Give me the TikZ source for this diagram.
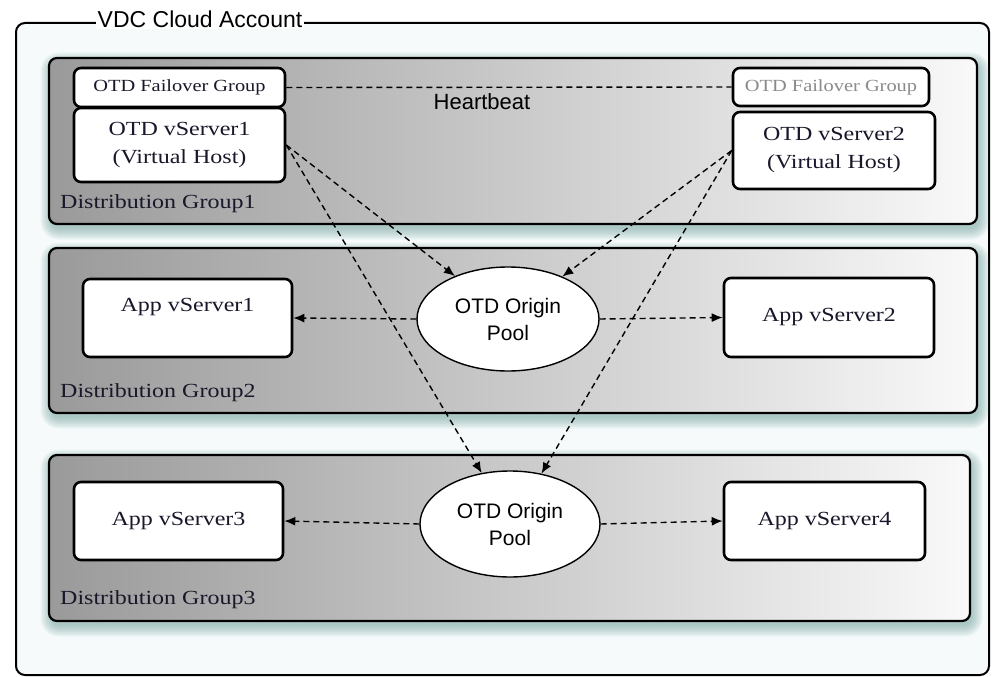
\documentclass[tikz,border=0pt]{standalone}
\usepackage{fontspec}
\newfontfamily\goudy{Liberation Serif}[FakeStretch=1.2]
\newfontfamily\hv{Liberation Sans}
\usetikzlibrary{arrows.meta,shapes.geometric,fit,calc}
\definecolor{txt}{HTML}{18182A}
\definecolor{greytxt}{HTML}{8A8A8A}
\definecolor{gL}{HTML}{9A9A9A}
\definecolor{gM}{HTML}{CDCDCD}
\definecolor{gR}{HTML}{F9F9F9}
\definecolor{glowc}{HTML}{5E9590}
\definecolor{outerc}{HTML}{F6FAFA}
\newcommand\glowbox[2]{%
  \foreach \k in {0,...,7}{%
    \pgfmathsetmacro\rr{8+1.5*\k}%
    \fill[glowc, opacity=0.075, rounded corners=\rr pt]
      ($(#1)+(-1.5*\k+2,-1.5*\k+5)$) rectangle ($(#2)+(1.5*\k+2,1.5*\k+5)$);
  }}
\tikzset{
  grp/.style={draw, line width=2.2pt, rounded corners=8pt, left color=gL, middle color=gM, right color=gR, inner sep=0pt},
  box/.style={draw, line width=2.6pt, rounded corners=7pt, fill=white, inner sep=0pt, align=center,
    text=txt, font=\goudy\fontsize{20}{28}\selectfont},
  fobox/.style={box, font=\goudy\fontsize{17}{20}\selectfont},
  btext/.style={inner sep=0pt, text=txt, font=\goudy\fontsize{20}{28}\selectfont},
  glabel/.style={inner sep=0pt, anchor=west, text=txt, font=\goudy\fontsize{20}{24}\selectfont},
  pool/.style={ellipse, draw, line width=1.4pt, fill=white, inner sep=0pt, align=center,
    font=\hv\fontsize{21}{27}\selectfont},
  dline/.style={draw, line width=1.4pt, dash pattern=on 6pt off 4pt},
  darrow/.style={dline, -{Latex[length=11pt,width=9pt]}}
}
\begin{document}
\begin{tikzpicture}[x=1pt,y=-1pt]
\useasboundingbox[fill=white] (0,0) rectangle (997,677);
% outer account box
\coordinate (oa) at (16,23);
\coordinate (ob) at (989,675);
\node[draw, line width=2pt, rounded corners=9pt, fill=outerc, inner sep=0pt, fit=(oa)(ob)] (outer) {};
\node[fill=white, inner sep=1.5pt, font=\hv\fontsize{23}{26}\selectfont] (title) at (200,19) {VDC Cloud Account};

% group boxes
\coordinate (g1a) at (49,58);  \coordinate (g1b) at (977,224);
\coordinate (g2a) at (49,248); \coordinate (g2b) at (977,413);
\coordinate (g3a) at (49,455); \coordinate (g3b) at (970,621);
\glowbox{g1a}{g1b}
\glowbox{g2a}{g2b}
\glowbox{g3a}{g3b}
\node[grp, fit=(g1a)(g1b)] (g1) {};
\node[grp, fit=(g2a)(g2b)] (g2) {};
\node[grp, fit=(g3a)(g3b)] (g3) {};

\node[glabel] (l1) at (60,204) {Distribution Group1};
\node[glabel] (l2) at (60,393) {Distribution Group2};
\node[glabel] (l3) at (60,600) {Distribution Group3};

% group 1
\node[fobox, minimum width=211pt, minimum height=39pt] (failL) at (179.5,87.5) {OTD Failover Group};
\node[box, minimum width=211pt, minimum height=74pt] (vs1) at (179.5,145) {OTD vServer1\\(Virtual Host)};
\node[fobox, text=greytxt, minimum width=196pt, minimum height=38pt] (failR) at (831,87) {OTD Failover Group};
\node[box, minimum width=202pt, minimum height=77pt] (vs2) at (834,150.5) {OTD vServer2\\(Virtual Host)};
\node[inner sep=0pt, font=\hv\fontsize{22}{26}\selectfont] (hb) at (482,102) {Heartbeat};

% group 2
\node[box, minimum width=209pt, minimum height=78pt] (app1) at (187.5,318) {};
\node[btext] (app1t) at (187.5,307) {App vServer1};
\node[pool, minimum width=182pt, minimum height=104pt] (pool1) at (508,319) {OTD Origin\\Pool};
\node[box, minimum width=210pt, minimum height=79pt] (app2) at (829,317.5) {App vServer2};

% group 3
\node[box, minimum width=209pt, minimum height=78pt] (app3) at (178.5,521) {App vServer3};
\node[pool, minimum width=180pt, minimum height=106pt] (pool2) at (510,524) {OTD Origin\\Pool};
\node[box, minimum width=201pt, minimum height=78pt] (app4) at (824.5,521) {App vServer4};

% connectors
\draw[dline] (failL.east) -- (failR.west);
\draw[darrow] (vs1.east) -- (pool1.141);
\draw[darrow] (vs1.east) -- (pool2.119);
\draw[darrow] (vs2.west) -- (pool1.38);
\draw[darrow] (vs2.west) -- (pool2.58);
\draw[darrow] (pool1.west) -- (app1.east);
\draw[darrow] (pool1.east) -- (app2.west);
\draw[darrow] (pool2.west) -- (app3.east);
\draw[darrow] (pool2.east) -- (app4.west);
\end{tikzpicture}
\end{document}
